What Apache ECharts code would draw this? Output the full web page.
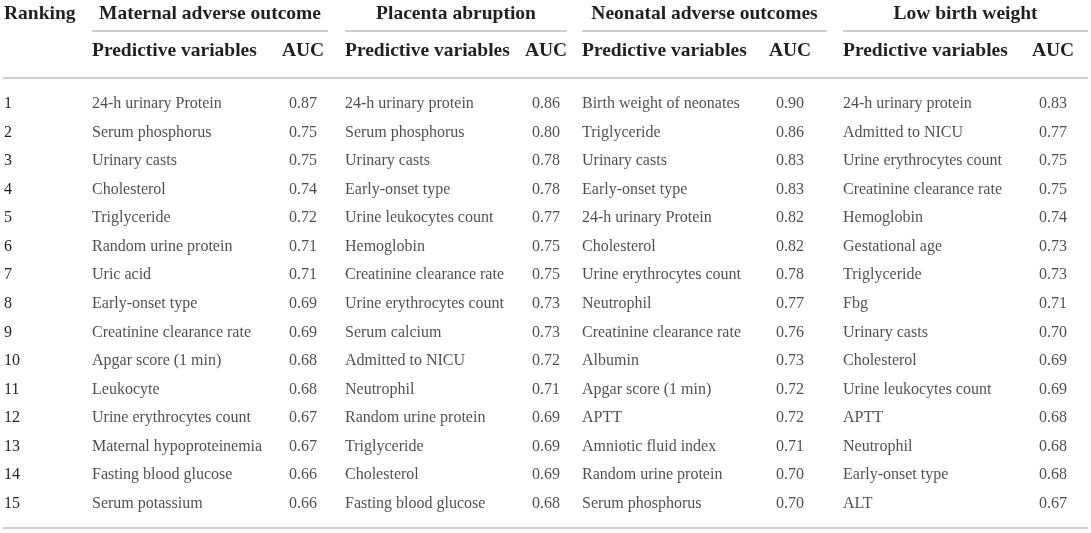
<!DOCTYPE html>
<html>
<head>
<meta charset="utf-8">
<script src="https://cdn.jsdelivr.net/npm/echarts@6/dist/echarts.min.js"></script>
<style>
html,body{margin:0;padding:0;background:#fff;}
#chart{width:1091px;height:533px;}
</style>
</head>
<body>
<div id="chart"></div>
<script>
// ---- data ----
const rankings = ['1','2','3','4','5','6','7','8','9','10','11','12','13','14','15'];
const groupTitles = ['Maternal adverse outcome','Placenta abruption','Neonatal adverse outcomes','Low birth weight'];
const rankHeader = 'Ranking';
const varHeader = 'Predictive variables';
const aucHeader = 'AUC';

const maternalVariables = ['24-h urinary Protein','Serum phosphorus','Urinary casts','Cholesterol','Triglyceride','Random urine protein','Uric acid','Early-onset type','Creatinine clearance rate','Apgar score (1 min)','Leukocyte','Urine erythrocytes count','Maternal hypoproteinemia','Fasting blood glucose','Serum potassium'];
const maternalAUC = [0.87,0.75,0.75,0.74,0.72,0.71,0.71,0.69,0.69,0.68,0.68,0.67,0.67,0.66,0.66];

const placentaVariables = ['24-h urinary protein','Serum phosphorus','Urinary casts','Early-onset type','Urine leukocytes count','Hemoglobin','Creatinine clearance rate','Urine erythrocytes count','Serum calcium','Admitted to NICU','Neutrophil','Random urine protein','Triglyceride','Cholesterol','Fasting blood glucose'];
const placentaAUC = [0.86,0.80,0.78,0.78,0.77,0.75,0.75,0.73,0.73,0.72,0.71,0.69,0.69,0.69,0.68];

const neonatalVariables = ['Birth weight of neonates','Triglyceride','Urinary casts','Early-onset type','24-h urinary Protein','Cholesterol','Urine erythrocytes count','Neutrophil','Creatinine clearance rate','Albumin','Apgar score (1 min)','APTT','Amniotic fluid index','Random urine protein','Serum phosphorus'];
const neonatalAUC = [0.90,0.86,0.83,0.83,0.82,0.82,0.78,0.77,0.76,0.73,0.72,0.72,0.71,0.70,0.70];

const lbwVariables = ['24-h urinary protein','Admitted to NICU','Urine erythrocytes count','Creatinine clearance rate','Hemoglobin','Gestational age','Triglyceride','Fbg','Urinary casts','Cholesterol','Urine leukocytes count','APTT','Neutrophil','Early-onset type','ALT'];
const lbwAUC = [0.83,0.77,0.75,0.75,0.74,0.73,0.73,0.71,0.70,0.69,0.69,0.68,0.68,0.68,0.67];

// ---- layout (pixel anchors of the columns, not data) ----
const FONT = 'Liberation Serif';
const TXT = '#231f20';
const RULE = '#cfcfcf';
const HSIZE = 19.5;
const groupsLayout = [
  {start: 92,  end: 328,  auc: 303},
  {start: 345, end: 567,  auc: 546},
  {start: 582, end: 827,  auc: 790},
  {start: 843, end: 1088, auc: 1053}
];
const groupData = [
  [maternalVariables, maternalAUC],
  [placentaVariables, placentaAUC],
  [neonatalVariables, neonatalAUC],
  [lbwVariables, lbwAUC]
];

const series = [];
groupData.forEach(([vars, aucs], g) => {
  const L = groupsLayout[g];
  series.push({
    type: 'scatter', symbolSize: 0, silent: true,
    itemStyle: {color: 'transparent'},
    data: vars.map((v, i) => ({name: v, value: [L.start, rankings[i]]})),
    label: {show: true, position: 'right', distance: 0, formatter: p => p.name,
      fontFamily: FONT, fontSize: 16, color: TXT}
  });
  series.push({
    type: 'scatter', symbolSize: 0, silent: true,
    itemStyle: {color: 'transparent'},
    data: aucs.map((a, i) => ({name: rankings[i], value: [L.auc, rankings[i], a]})),
    label: {show: true, position: 'inside', formatter: p => p.value[2].toFixed(2),
      fontFamily: FONT, fontSize: 16, color: TXT}
  });
});

const graphic = [];
function txt(text, x, y, align, bold, size) {
  graphic.push({type: 'text', silent: true, style: {
    text, x, y, fill: TXT,
    font: (bold ? 'bold ' : '') + size + 'px "' + FONT + '"',
    align, verticalAlign: 'middle', textAlign: align, textVerticalAlign: 'middle'
  }});
}
function rule(x1, x2, y) {
  graphic.push({type: 'line', silent: true, shape: {x1, y1: y, x2, y2: y},
    style: {stroke: RULE, lineWidth: 2}});
}
txt(rankHeader, 4, 14, 'left', true, HSIZE);
groupsLayout.forEach((L, g) => {
  txt(groupTitles[g], (L.start + L.end) / 2, 14, 'center', true, HSIZE);
  rule(L.start, L.end, 31);
  txt(varHeader, L.start, 51, 'left', true, HSIZE);
  txt(aucHeader, L.auc, 51, 'center', true, HSIZE);
});
rule(3, 1088, 78);
rule(3, 1088, 528);

const chart = echarts.init(document.getElementById('chart'));
chart.setOption({
  animation: false,
  backgroundColor: '#fff',
  grid: {left: 0, right: 0, top: 89.5, height: 428.6, containLabel: false},
  xAxis: {type: 'value', min: 0, max: 1091, show: false},
  yAxis: {type: 'category', data: rankings, inverse: true,
    axisLine: {show: false}, axisTick: {show: false}, splitLine: {show: false},
    axisLabel: {inside: true, margin: 4, align: 'left', fontFamily: FONT, fontSize: 16, color: TXT}},
  series,
  graphic
});
</script>
</body>
</html>
